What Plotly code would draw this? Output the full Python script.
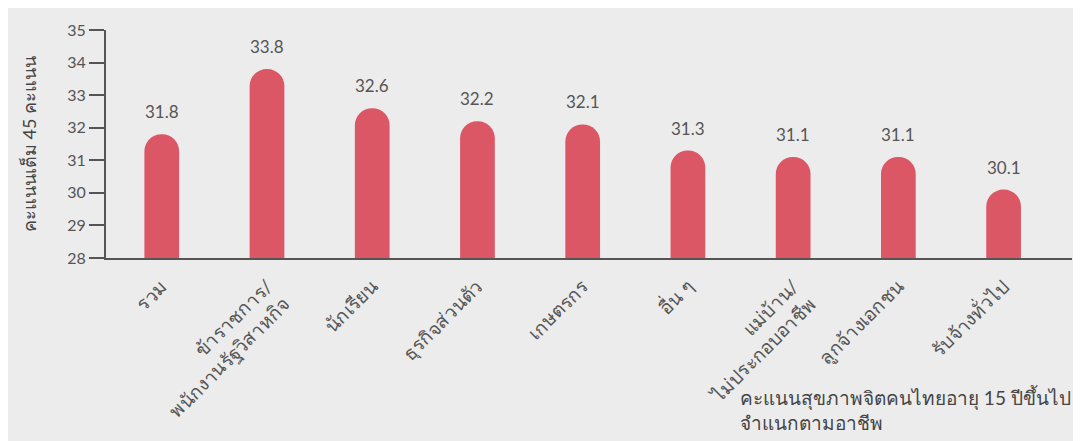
import plotly.graph_objects as go

categories = [
    "รวม",
    "ข้าราชการ/<br>พนักงานรัฐวิสาหกิจ",
    "นักเรียน",
    "ธุรกิจส่วนตัว",
    "เกษตรกร",
    "อื่น ๆ",
    "แม่บ้าน/<br>ไม่ประกอบอาชีพ",
    "ลูกจ้างเอกชน",
    "รับจ้างทั่วไป",
]
values = [31.8, 33.8, 32.6, 32.2, 32.1, 31.3, 31.1, 31.1, 30.1]
y_ticks = [28, 29, 30, 31, 32, 33, 34, 35]
y_title = "คะแนนเต็ม 45 คะแนน"
caption = "คะแนนสุขภาพจิตคนไทยอายุ 15 ปีขึ้นไป<br>จำแนกตามอาชีพ"

BAR = "#dc5766"
TXT = "#555555"
FONT = "Lato, 'Noto Sans', 'DejaVu Sans', sans-serif"

fig = go.Figure()
fig.add_trace(go.Bar(
    x=list(range(len(categories))),
    y=values,
    width=0.33,
    marker=dict(color=BAR, line=dict(width=0)),
    hoverinfo="skip",
))

for i, v in enumerate(values):
    fig.add_annotation(
        x=i, y=v, text=f"{v:.1f}", showarrow=False,
        yanchor="bottom", yshift=10,
        font=dict(size=17, color=TXT, family=FONT),
    )

fig.add_annotation(
    xref="paper", yref="paper", x=0.654, y=-0.55,
    xanchor="left", yanchor="top", align="left",
    text=caption, showarrow=False,
    font=dict(size=19, color="#444444", family=FONT),
)

fig.update_layout(
    width=1081, height=441,
    margin=dict(l=98, r=17, t=19, b=191),
    paper_bgcolor="#ececec",
    plot_bgcolor="#ececec",
    showlegend=False,
    barcornerradius="50%",
    font=dict(family=FONT, color=TXT),
    xaxis=dict(
        range=[-0.53, 8.65],
        tickmode="array",
        tickvals=list(range(len(categories))),
        ticktext=categories,
        tickangle=-45,
        ticklabelstandoff=8,
        tickfont=dict(size=19, color=TXT, family=FONT),
        showgrid=False, zeroline=False,
        showline=True, linecolor="#555555", linewidth=2,
        ticks="",
    ),
    yaxis=dict(
        range=[28, 35],
        tickmode="array",
        tickvals=y_ticks,
        ticktext=[str(t) for t in y_ticks],
        tickfont=dict(size=16, color=TXT, family=FONT),
        showgrid=False, zeroline=False,
        showline=True, linecolor="#555555", linewidth=2,
        ticks="outside", ticklen=15, tickwidth=1.5, tickcolor="#555555",
        title=dict(text=y_title, font=dict(size=18, color="#444444", family=FONT), standoff=26),
    ),
)

fig.write_html("out.html")
